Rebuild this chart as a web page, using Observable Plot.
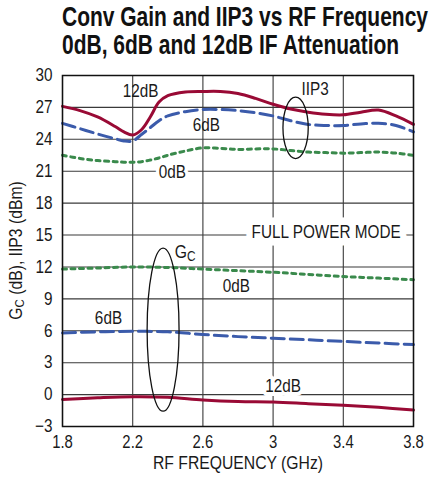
<!DOCTYPE html>
<html><head><meta charset="utf-8">
<script src="https://cdn.jsdelivr.net/npm/d3@7"></script>
<script src="https://cdn.jsdelivr.net/npm/@observablehq/plot@0.6"></script>
<style>
body{margin:0;background:#fff;width:433px;height:486px;overflow:hidden}
#title{position:relative;height:62px;font-family:"Liberation Sans",Arial,sans-serif;font-weight:bold;font-size:27px;color:#111}
#title span{position:absolute;left:62px;line-height:26px;white-space:nowrap;transform-origin:0 50%}
#chart svg{display:block}
</style></head><body>
<div id="title"><span id="t1" style="top:4px">Conv Gain and IIP3 vs RF Frequency</span><span id="t2" style="top:32px">0dB, 6dB and 12dB IF Attenuation</span></div>
<div id="chart"></div>
<script>
// ---- data ----
const freqIIP3 = [1.8,1.9,2.0,2.1,2.15,2.2,2.25,2.3,2.35,2.4,2.5,2.6,2.7,2.8,2.9,3.0,3.1,3.2,3.3,3.4,3.5,3.6,3.7,3.8];
const iip3_12dB = [27.1,26.7,26.1,25.2,24.7,24.4,24.9,26.1,27.5,28.1,28.45,28.5,28.5,28.3,27.85,27.3,26.85,26.55,26.35,26.3,26.55,26.75,26.2,25.4];
const iip3_6dB  = [25.5,25.0,24.5,24.05,23.85,23.85,24.45,25.1,25.75,26.2,26.6,26.8,26.8,26.7,26.5,26.2,25.75,25.4,25.3,25.3,25.45,25.5,25.3,24.7];
const iip3_0dB  = [22.5,22.2,22.0,21.9,21.85,21.85,21.9,22.05,22.25,22.5,22.9,23.2,23.15,23.05,23.1,23.1,22.95,22.8,22.75,22.7,22.75,22.8,22.7,22.5];
const freqGc = [1.8,2.0,2.2,2.4,2.6,2.8,3.0,3.2,3.4,3.6,3.8];
const gc_0dB  = [11.8,11.9,12.0,11.95,11.8,11.65,11.5,11.3,11.1,10.95,10.8];
const gc_6dB  = [5.8,5.9,5.95,5.9,5.65,5.45,5.3,5.15,5.0,4.85,4.7];
const gc_12dB = [-0.45,-0.3,-0.2,-0.25,-0.5,-0.65,-0.7,-0.85,-1.0,-1.2,-1.45];
const xTicks = [1.8,2.2,2.6,3.0,3.4,3.8];
const yTicks = [-3,0,3,6,9,12,15,18,21,24,27,30];
const xTickLabels = ["1.8","2.2","2.6","3","3.4","3.8"];
const plainLabels = [
  {text:"12dB", x:2.245, y:28.5},
  {text:"6dB",  x:2.62,  y:25.3},
  {text:"IIP3", x:3.24,  y:28.75},
  {text:"0dB",  x:2.79,  y:10.15},
  {text:"6dB",  x:2.062, y:7.14}
];
const haloLabels = [
  {text:"0dB", x:2.426, y:20.9, w:8},
  {text:"FULL POWER MODE", x:3.302, y:15.3, w:15},
  {text:"12dB", x:3.057, y:0.75, w:8}
];
const ellipses = [
  {cx:3.131, cy:25.03, rx:0.072, ry:2.885},
  {cx:2.376, cy:6.06, rx:0.091, ry:7.67}
];
const gcLabel = {x:2.443, y:12.8};

// ---- build ----
const FONT = '"Liberation Sans",Arial,sans-serif';
const SQUEEZE = 0.85;
const NS = "http://www.w3.org/2000/svg";
const rows = (xs, ys) => xs.map((x,i)=>({x, y: ys[i]}));
const RED = "#990a35", BLUE = "#3b5bab", GREEN = "#3a8a4c";

function ellipseMark(list){
  return (index, scales) => {
    const g = document.createElementNS(NS,"g");
    for (const d of list){
      const e = document.createElementNS(NS,"ellipse");
      const cx = scales.x(d.cx), cy = scales.y(d.cy);
      e.setAttribute("cx", cx); e.setAttribute("cy", cy);
      e.setAttribute("rx", Math.abs(scales.x(d.cx + d.rx) - cx));
      e.setAttribute("ry", Math.abs(scales.y(d.cy + d.ry) - cy));
      e.setAttribute("fill","none"); e.setAttribute("stroke","#111"); e.setAttribute("stroke-width","1.3");
      g.appendChild(e);
    }
    return g;
  };
}
function subText(parts, attrs){
  const t = document.createElementNS(NS,"text");
  t.setAttribute("class","custom");
  for (const [k,v] of Object.entries(attrs)) t.setAttribute(k,v);
  for (const p of parts){
    const s = document.createElementNS(NS,"tspan");
    s.textContent = p.t;
    if (p.dy) s.setAttribute("dy", p.dy);
    if (p.size) s.setAttribute("font-size", p.size);
    t.appendChild(s);
  }
  return t;
}
const gcMark = (index, scales) => subText(
  [{t:"G"},{t:"C", dy:3, size:14}],
  {transform:`translate(${scales.x(gcLabel.x)},${scales.y(gcLabel.y)}) scale(${SQUEEZE},1)`, "text-anchor":"start", "font-size":18.5, fill:"#1a1a1a", "font-family":FONT});
const yLabelMark = (index, scales, values, dim) => {
  const cy = (dim.marginTop + dim.height - dim.marginBottom)/2;
  return subText(
    [{t:"G"},{t:"C", dy:2, size:13.5},{t:" (dB), IIP3 (dBm)", dy:-2}],
    {transform:`translate(${dim.marginLeft-40},${cy}) rotate(-90) scale(${SQUEEZE},1)`, "text-anchor":"middle", "font-size":18.5, fill:"#1a1a1a", "font-family":FONT});
};

const lineOpts = {x:"x", y:"y", curve:"catmull-rom", strokeWidth:3};
const chart = Plot.plot({
  width:433, height:424,
  marginTop:13, marginBottom:60, marginLeft:62, marginRight:20,
  style:{fontFamily:FONT, fontSize:"18px", color:"#1a1a1a", background:"#fff"},
  x:{domain:[1.8,3.8]},
  y:{domain:[-3,30]},
  marks:[
    Plot.gridX(xTicks, {stroke:"#3a3a3a", strokeOpacity:1, strokeWidth:1.1}),
    Plot.gridY(yTicks, {stroke:"#3a3a3a", strokeOpacity:1, strokeWidth:1.1}),
    Plot.text(haloLabels, {x:"x", y:"y", text:"text", fill:"#1a1a1a", stroke:"white", strokeWidth:d=>d.w, fontSize:18, strokeLinejoin:"round"}),
    Plot.line(rows(freqIIP3, iip3_0dB), {...lineOpts, stroke:GREEN, strokeDasharray:"4,4.5"}),
    Plot.line(rows(freqIIP3, iip3_6dB), {...lineOpts, stroke:BLUE, strokeDasharray:"13,6"}),
    Plot.line(rows(freqIIP3, iip3_12dB), {...lineOpts, stroke:RED}),
    Plot.line(rows(freqGc, gc_0dB), {...lineOpts, stroke:GREEN, strokeDasharray:"4,4.5"}),
    Plot.line(rows(freqGc, gc_6dB), {...lineOpts, stroke:BLUE, strokeDasharray:"13,6"}),
    Plot.line(rows(freqGc, gc_12dB), {...lineOpts, stroke:RED}),
    ellipseMark(ellipses),
    Plot.text(plainLabels, {x:"x", y:"y", text:"text", fill:"#1a1a1a", fontSize:18}),
    gcMark,
    Plot.frame({stroke:"#111", strokeWidth:1.5}),
    Plot.axisX(xTicks, {tickSize:0, tickPadding:9, tickFormat:(d,i)=>xTickLabels[i], fontSize:17.5, label:null}),
    Plot.axisY(yTicks, {tickSize:0, tickPadding:10, fontSize:18, label:null}),
    Plot.text(["RF FREQUENCY (GHz)"], {text:d=>d, frameAnchor:"bottom", dy:37, lineAnchor:"middle", fontSize:18.5}),
    yLabelMark
  ]
});
document.getElementById("chart").appendChild(chart);

// condensed look: squeeze glyphs horizontally
for (const t of chart.querySelectorAll("text")) {
  if (t.classList.contains("custom")) continue;
  const w = t.getComputedTextLength();
  if (w > 0) { t.setAttribute("textLength", w * SQUEEZE); t.setAttribute("lengthAdjust", "spacingAndGlyphs"); }
}

// fit title width
const t1 = document.getElementById("t1"), t2 = document.getElementById("t2");
const k = 366 / t1.getBoundingClientRect().width;
t1.style.transform = `scaleX(${k})`;
t2.style.transform = `scaleX(${k})`;
</script>
</body></html>
